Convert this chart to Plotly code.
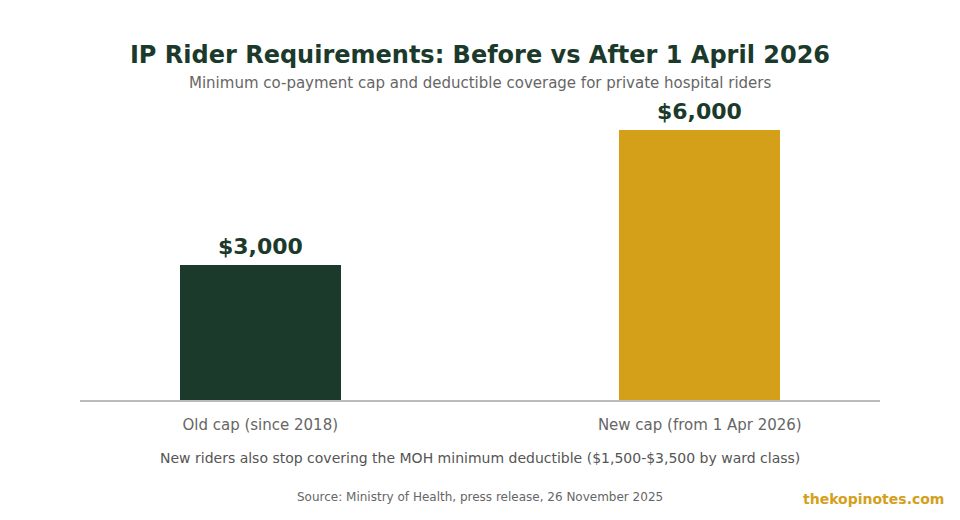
import plotly.graph_objects as go

categories = ["Old cap (since 2018)", "New cap (from 1 Apr 2026)"]
cap_values = [3000, 6000]
cap_labels = ["$3,000", "$6,000"]
bar_colors = ["#1b3a2b", "#d4a01a"]

title = "IP Rider Requirements: Before vs After 1 April 2026"
subtitle = "Minimum co-payment cap and deductible coverage for private hospital riders"
note = "New riders also stop covering the MOH minimum deductible ($1,500-$3,500 by ward class)"
source = "Source: Ministry of Health, press release, 26 November 2025"
brand = "thekopinotes.com"

FONT = "DejaVu Sans"
DARK = "#1b3a2b"

x_pos = list(range(len(categories)))

fig = go.Figure()
fig.add_trace(go.Bar(
    x=x_pos,
    y=cap_values,
    width=0.366,
    marker=dict(color=bar_colors, line=dict(width=0)),
    hoverinfo="skip",
))

# value labels above the bars
for xp, val, lab in zip(x_pos, cap_values, cap_labels):
    fig.add_annotation(x=xp, y=val, text="<b>" + lab + "</b>", showarrow=False,
                       yanchor="bottom", yshift=4,
                       font=dict(family=FONT, size=22, color=DARK))

# page body has an 8px margin, so the plot box is pulled 8px up/left
fig.update_layout(
    width=960, height=520,
    margin=dict(l=72, r=88, t=92, b=128),
    paper_bgcolor="white",
    plot_bgcolor="white",
    showlegend=False,
    font=dict(family=FONT, color="#666666"),
    title=dict(
        text="<b>" + title + "</b>",
        x=(480 - 8) / 960, xanchor="center", y=1 - 47 / 520, yanchor="middle",
        font=dict(family=FONT, size=24, color=DARK),
    ),
    xaxis=dict(
        range=[-0.41, 1.41],
        tickvals=x_pos,
        ticktext=categories,
        tickfont=dict(family=FONT, size=15, color="#666666"),
        ticklabelstandoff=10,
        showgrid=False, zeroline=False,
        showline=True, linecolor="#bbbbbb", linewidth=1.5,
        ticks="", ticklen=0,
    ),
    yaxis=dict(
        range=[0, 6000 * 300 / 270],
        visible=False, showgrid=False, zeroline=False,
    ),
    bargap=0,
)

fig.add_annotation(text=subtitle, xref="paper", yref="paper", x=0.5, y=(400 - 83) / 300, yanchor="middle",
                   showarrow=False, font=dict(family=FONT, size=15, color="#666666"))
fig.add_annotation(text=note, xref="paper", yref="paper", x=0.5, y=(400 - 458) / 300, yanchor="middle",
                   showarrow=False, font=dict(family=FONT, size=14, color="#555555"))
fig.add_annotation(text=source, xref="paper", yref="paper", x=0.5, y=(400 - 497) / 300, yanchor="middle",
                   showarrow=False, font=dict(family=FONT, size=12, color="#666666"))
fig.add_annotation(text="<b>" + brand + "</b>", xref="paper", yref="paper",
                   x=(946 - 80) / 800, xanchor="right", y=(400 - 499) / 300, yanchor="middle",
                   showarrow=False, font=dict(family=FONT, size=14, color="#d4a01a"))

fig.write_html("out.html")
